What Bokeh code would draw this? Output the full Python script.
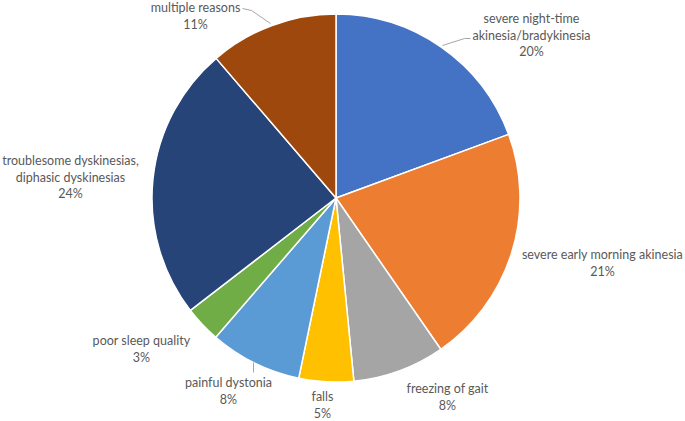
import math
from bokeh.plotting import figure
from bokeh.models import Range1d, ColumnDataSource
from bokeh.core.properties import value
from bokeh.embed import file_html
from bokeh.resources import INLINE

# ---- data ----
categories = [
    "severe night-time\nakinesia/bradykinesia",
    "severe early morning akinesia",
    "freezing of gait",
    "falls",
    "painful dystonia",
    "poor sleep quality",
    "troublesome dyskinesias,\ndiphasic dyskinesias",
    "multiple reasons",
]
shares = [19.4, 21.0, 8.1, 4.8, 8.1, 3.2, 24.2, 11.3]
pct_labels = ["20%", "21%", "8%", "5%", "8%", "3%", "24%", "11%"]
colors = ["#4472C4", "#ED7D31", "#A5A5A5", "#FFC000",
          "#5B9BD5", "#70AD47", "#264478", "#9E480E"]

# ---- layout (page pixel coordinates, y measured from top) ----
W, H = 685, 421
CX, CY, R = 335.5, 197.5, 184
label_pos = [(531, 18), (602, 254), (447, 388), (322, 396),
             (228, 382), (141, 340), (70, 160), (195, 7)]
LINE_H = 16.5
leaders = [
    [(442, 45), (464, 38), (470, 38)],
    None, None, None,
    [(253, 362), (253, 372)],
    None, None,
    [(242, 8), (251, 10), (270, 23)],
]

def fy(y):
    return H - y

p = figure(width=W, height=H, output_backend="svg", toolbar_location=None,
           x_range=Range1d(0, W), y_range=Range1d(0, H),
           min_border=0)
p.axis.visible = False
p.grid.visible = False
p.outline_line_color = None
p.background_fill_color = "white"
p.border_fill_color = "white"

total = sum(shares)
starts, ends = [], []
cum = 0.0
for s in shares:
    a0 = math.pi / 2 - 2 * math.pi * cum / total
    cum += s
    a1 = math.pi / 2 - 2 * math.pi * cum / total
    starts.append(a0)
    ends.append(a1)

src = ColumnDataSource(dict(start=starts, end=ends, color=colors,
                            x=[CX] * len(shares), y=[fy(CY)] * len(shares)))
p.wedge(x="x", y="y", radius=R, start_angle="start", end_angle="end",
        direction="clock", fill_color="color", line_color="white",
        line_width=1.5, source=src)

for pts in leaders:
    if pts:
        p.line([q[0] for q in pts], [fy(q[1]) for q in pts],
               line_color="#A6A6A6", line_width=1)

tx, ty, tt = [], [], []
for (lx, ly), cat, pct in zip(label_pos, categories, pct_labels):
    lines = cat.split("\n") + [pct]
    for i, line in enumerate(lines):
        tx.append(lx)
        ty.append(fy(ly + i * LINE_H))
        tt.append(line)
p.text(x=tx, y=ty, text=tt, text_font=value("Lato"), text_font_size="12.5px",
       text_color="#595959", text_align="center", text_baseline="middle")

open("out.html", "w").write(file_html(p, INLINE))
